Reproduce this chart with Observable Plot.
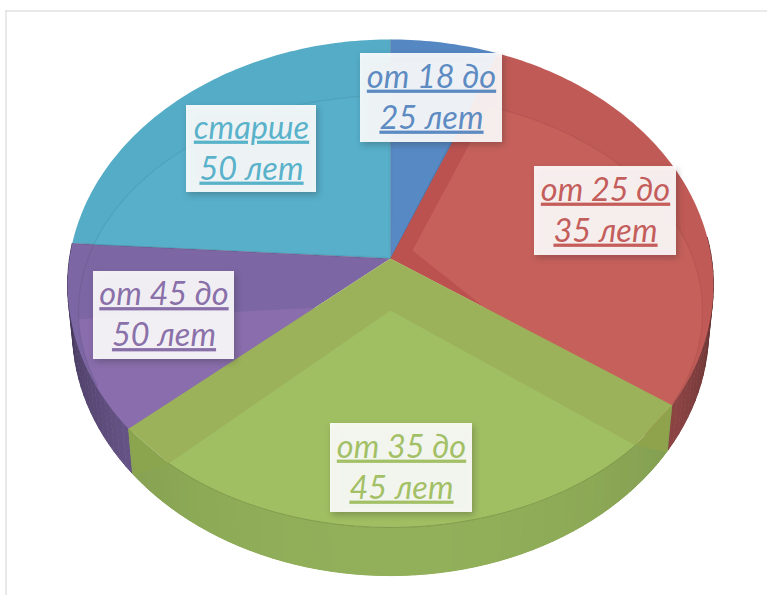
<!DOCTYPE html>
<html><head><meta charset="utf-8">
<style>
html,body{margin:0;padding:0;background:#fff}
svg{display:block}
.lab text{text-decoration:underline;text-decoration-thickness:2px;text-underline-offset:4px}
</style>
<script src="https://cdn.jsdelivr.net/npm/d3@7"></script>
<script src="https://cdn.jsdelivr.net/npm/@observablehq/plot@0.6"></script>
</head><body><div id="chart"></div>
<script>
// Data, clockwise from the top
const categories = ["от 18 до\n25 лет","от 25 до\n35 лет","от 35 до\n45 лет","от 45 до\n50 лет","старше\n50 лет"];
const shares = [6, 28.6, 29.1, 12.3, 24];

// Styles, one per slice
const textColors = ["#4F81BD","#C0504D","#9BBB59","#8064A2","#4BACC6"];
const baseColors = ["#5587C3","#C05A56","#9BB25A","#7C66A3","#54ACC6"];
const faceColors = ["#5789C5","#C6605B","#A0BE62","#896DAC","#57AFC9"];
const wallColors = ["#5587C3","#BC5B5A","#92B05A","#8068A9","#52A9C4"];
const wallShade  = [1.3, 1.3, 0.5, 1.3, 1.3];
const bandColor = "#BB5250";

// Layout of the tilted disc, in picture pixels
const apex = {x:390, y:258}, tilt = 0.108, rimA = 242.7, rimB = 321;
const ring = {x:390, y:311, rx:312, ry:216};
const innerApex = [[392,254],[412,250],[390,310],[390,304],[388,256]];
const innerArc = [[0.4,15.4],[18.5,125],[128.3,225.3],[268,250],[288,359.5]];

const boxX1 = [360,534,330,93,186], boxX2 = [502,676,472,234,316];
const boxY1 = [53,166,423,271,105], boxY2 = [142,255,512,359,192];

const rad = d => d*Math.PI/180;
const rim = t => {
  const u=Math.sin(rad(t)), v=Math.cos(rad(t)), w=1+tilt*v;
  return [apex.x+rimB*u/w, apex.y-rimA*v/w];
};
const bottom = t => { const [x,y]=rim(t); return [apex.x+(x-apex.x)*0.985, y+45]; };
const ringAt = t => [ring.x+ring.rx*Math.sin(rad(t)), ring.y-ring.ry*Math.cos(rad(t))];
const arc = (f,a,b) => {
  const n=Math.max(2,Math.ceil(Math.abs(b-a))), o=[];
  for(let i=0;i<=n;i++) o.push(f(a+(b-a)*i/n));
  return o;
};
const pie = d3.pairs(d3.cumsum([0,...shares]).map(s=>s*3.6));
const G = 2; // the green slice sits in front of the others
const [ga,gb]=pie[G];
const centre=[apex.x,apex.y];

const polys = list => list.flatMap((p,i)=>p.pts.map(([x,y])=>({id:i,x,y,color:p.color})));
const wallsOf = i => {
  const [a,b]=pie[i], n=Math.ceil((b-a)/2), o=[];
  for(let j=0;j<n;j++){
    const t0=a+(b-a)*j/n, t1=a+(b-a)*(j+1)/n, d=Math.abs((t0+t1)/2-180)/90;
    if(d>1.05) continue; // the far side of the wall is hidden behind the top
    o.push({color:d3.color(wallColors[i]).darker(d*d*wallShade[i]*1.6).formatHex(),
            pts:[rim(t0),rim(t1),bottom(t1),bottom(t0)]});
  }
  return o;
};
const backWalls=[4,1,3].flatMap(wallsOf);
const backTops=[0,4,1,3].map(i=>({color:baseColors[i],pts:[centre,...arc(rim,pie[i][0],pie[i][1])]}));

// inner, slightly lighter faces of the back slices
const backFaces=[
  {color:faceColors[0],pts:[innerApex[0],...arc(ringAt,...innerArc[0])]},
  {color:faceColors[4],pts:[innerApex[4],...arc(ringAt,...innerArc[4])]},
  {color:bandColor,pts:[centre,ringAt(innerArc[0][1]),ringAt(innerArc[1][0]),innerApex[1],rim(pie[1][1])]},
  {color:faceColors[1],pts:[innerApex[1],...arc(ringAt,...innerArc[1])]},
  {color:faceColors[3],pts:[innerApex[3],...arc(ringAt,...innerArc[3]),...arc(rim,240,gb)]}
];

const greenBack=[{color:wallColors[G],pts:[...arc(ringAt,...innerArc[G]),...arc(bottom,gb,ga)]}];
const greenWalls=wallsOf(G);
const greenTop=[
  {color:baseColors[G],pts:[centre,rim(ga),...arc(ringAt,...innerArc[G]),rim(gb)]},
  {color:"#8FA34D",pts:[rim(ga),ringAt(innerArc[G][0]),bottom(ga+0.5)]},
  {color:"#8BA54F",pts:[rim(gb),ringAt(innerArc[G][1]),bottom(gb-0.5)]},
  {color:faceColors[G],pts:[innerApex[G],...arc(ringAt,...innerArc[G])]}
];
const ringLine = arc(ringAt,...innerArc[G]).map(([x,y])=>({x,y}));
const faintRing = arc(ringAt,0,360).map(([x,y])=>({x,y}));
const edges = [pie[0][0],pie[1][0],pie[4][0]].flatMap((t,id)=>[rim(t),centre].map(([x,y])=>({id,x,y})));

const labels = categories.map((text,i)=>({text,color:textColors[i],
  x1:boxX1[i],x2:boxX2[i],y1:boxY1[i],y2:boxY2[i]}));

const fills = {x:"x",y:"y",z:"id",fill:"color"};
const plot = Plot.plot({
  width:767,height:595,margin:0,
  x:{domain:[0,767],range:[0,767],axis:null},
  y:{domain:[0,595],range:[0,595],axis:null},
  color:{type:"identity"},
  marks:[
    Plot.ruleX([5.5],{y1:10,y2:595,stroke:"#e2e2e2",strokeWidth:1.5}),
    Plot.ruleY([10.5],{x1:5,x2:767,stroke:"#e2e2e2",strokeWidth:1.5}),
    Plot.line(polys(backWalls),{...fills,stroke:"color",strokeWidth:1,strokeLinejoin:"round"}),
    Plot.line(polys(backTops),fills),
    Plot.line(polys(backFaces),fills),
    Plot.line(faintRing.slice(0,116),{x:"x",y:"y",stroke:"#000",strokeOpacity:0.05}),
    Plot.line(faintRing.slice(250),{x:"x",y:"y",stroke:"#000",strokeOpacity:0.05}),
    Plot.line(edges,{x:"x",y:"y",z:"id",stroke:"#203040",strokeOpacity:0.22,strokeWidth:1}),
    Plot.line(polys(greenBack),fills),
    Plot.line(polys(greenWalls),{...fills,stroke:"color",strokeWidth:1,strokeLinejoin:"round"}),
    Plot.line(polys(greenTop),fills),
    Plot.line(ringLine,{x:"x",y:"y",stroke:"#6f8c3e",strokeOpacity:0.7,strokeWidth:1}),
    Plot.rect(labels,{x1:"x1",x2:"x2",y1:"y1",y2:"y2",fill:"#fff",fillOpacity:0.9,
      imageFilter:"drop-shadow(2px 3px 3px rgba(40,40,40,.3))"}),
    Plot.text(labels,{x:d=>(d.x1+d.x2)/2,y:d=>(d.y1+d.y2)/2,text:"text",fill:"color",dy:-3,fillOpacity:0.92,
      className:"lab",fontFamily:"Lato",fontStyle:"italic",fontSize:32.5,lineHeight:41/32.5,
      textAnchor:"middle",lineAnchor:"middle"})
  ]
});
document.getElementById("chart").append(plot);
</script></body></html>
